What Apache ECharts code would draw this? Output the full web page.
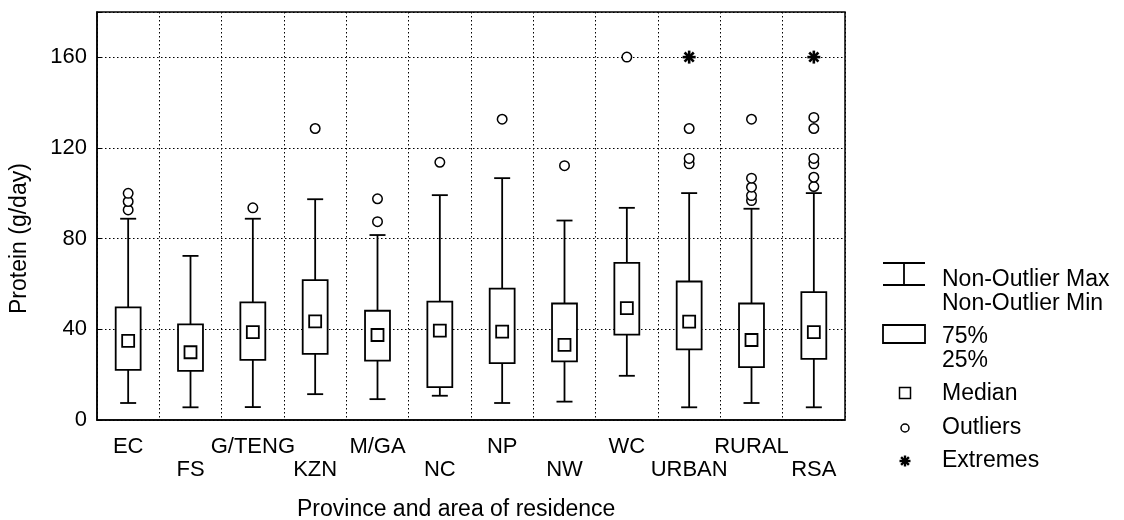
<!DOCTYPE html>
<html>
<head>
    <meta charset="UTF-8">
    <title>Protein boxplot</title>
    <script src="https://cdn.jsdelivr.net/npm/echarts@6/dist/echarts.min.js"></script>
</head>
<body style="margin:0;">
<div id="container" style="height:520px;width:1124px;"></div>
<script>
    // categories and box statistics
    var categories = ['EC', 'FS', 'G/TENG', 'KZN', 'M/GA', 'NC', 'NP', 'NW', 'WC', 'URBAN', 'RURAL', 'RSA'];
    var lows    = [7.5, 5.6, 5.7, 11.4, 9.2, 10.7, 7.5, 8.1, 19.5, 5.6, 7.5, 5.6];
    var q1s     = [22.1, 21.7, 26.5, 29.2, 26.2, 14.5, 25.1, 25.9, 37.7, 31.2, 23.3, 27.0];
    var medians = [34.9, 29.9, 38.8, 43.5, 37.5, 39.4, 39.0, 33.1, 49.4, 43.4, 35.3, 38.8];
    var q3s     = [49.7, 42.2, 51.9, 61.7, 48.2, 52.2, 58.0, 51.4, 69.3, 61.1, 51.4, 56.4];
    var highs   = [88.8, 72.4, 88.8, 97.4, 81.6, 99.2, 106.7, 88.0, 93.6, 100.1, 93.2, 100.1];
    // outliers: [category index, value]
    var outliers = [
        [0, 92.7], [0, 96.4], [0, 100.0],
        [2, 93.6],
        [3, 128.6],
        [4, 87.5], [4, 97.6],
        [5, 113.7],
        [6, 132.7],
        [7, 112.2],
        [8, 160.1],
        [9, 113.0], [9, 115.4], [9, 128.6],
        [10, 96.8], [10, 99.0], [10, 102.7], [10, 106.7], [10, 132.7],
        [11, 103.0], [11, 107.1], [11, 113.0], [11, 115.4], [11, 128.6], [11, 133.5]
    ];
    var extremes = [[9, 160.1], [11, 160.1]];
    var yTicks = [0, 40, 80, 120, 160];

    var FONT = 'Liberation Sans, Arial, sans-serif';
    var dom = document.getElementById('container');
    var myChart = echarts.init(dom);

    var boxData = categories.map(function (c, i) {
        return [i, lows[i], q1s[i], medians[i], q3s[i], highs[i]];
    });

    function renderBox(params, api) {
        var i = api.value(0);
        var pLow = api.coord([i, api.value(1)]);
        var pQ1 = api.coord([i, api.value(2)]);
        var pMed = api.coord([i, api.value(3)]);
        var pQ3 = api.coord([i, api.value(4)]);
        var pHigh = api.coord([i, api.value(5)]);
        var half = api.size([1, 0])[0] * 0.2;
        var cap = 8;
        var x = pMed[0];
        var st = {stroke: '#000', lineWidth: 1.8, fill: null};
        return {
            type: 'group',
            children: [
                {type: 'line', shape: {x1: x, y1: pHigh[1], x2: x, y2: pQ3[1]}, style: st},
                {type: 'line', shape: {x1: x, y1: pQ1[1], x2: x, y2: pLow[1]}, style: st},
                {type: 'line', shape: {x1: x - cap, y1: pHigh[1], x2: x + cap, y2: pHigh[1]}, style: st},
                {type: 'line', shape: {x1: x - cap, y1: pLow[1], x2: x + cap, y2: pLow[1]}, style: st},
                {type: 'rect', shape: {x: x - half, y: pQ3[1], width: half * 2, height: pQ1[1] - pQ3[1]},
                    style: {stroke: '#000', lineWidth: 1.8, fill: '#fff'}},
                {type: 'rect', shape: {x: x - 6, y: pMed[1] - 6, width: 12, height: 12},
                    style: {stroke: '#000', lineWidth: 1.8, fill: '#fff'}}
            ]
        };
    }

    // eight-spoke star used for the extremes
    function asterisk(cx, cy, r, w) {
        var out = [];
        for (var k = 0; k < 4; k++) {
            var a = k * Math.PI / 4;
            out.push({type: 'line',
                shape: {x1: cx - r * Math.cos(a), y1: cy - r * Math.sin(a), x2: cx + r * Math.cos(a), y2: cy + r * Math.sin(a)},
                style: {stroke: '#000', lineWidth: w}});
        }
        return out;
    }

    function renderExtreme(params, api) {
        var p = api.coord([api.value(0), api.value(1)]);
        return {type: 'group', children: asterisk(p[0], p[1], 6.5, 2.6)};
    }

    var legendX = 883, textX = 942;
    var txt = function (s, y) {
        return {type: 'text', left: textX, top: y - 12,
            style: {text: s, font: '23px ' + FONT, fill: '#000'}};
    };
    var lst = {stroke: '#000', lineWidth: 1.8};

    option = {
        animation: false,
        grid: {left: 97, right: 279, top: 12, bottom: 100, show: true, borderColor: '#000', borderWidth: 1.5},
        xAxis: {
            type: 'category',
            data: categories,
            axisLine: {lineStyle: {color: '#000', width: 1.5}},
            axisTick: {show: false},
            splitLine: {show: true, lineStyle: {color: '#000', type: [1.5, 2.5], width: 1}},
            axisLabel: {
                interval: 0, margin: 15, color: '#000', fontSize: 22, fontFamily: FONT, lineHeight: 23,
                formatter: function (v, i) { return i % 2 ? '\n' + v : v; }
            }
        },
        yAxis: {
            type: 'value',
            min: 0, max: 180, interval: 40,
            axisLine: {show: true, lineStyle: {color: '#000', width: 1.5}},
            axisTick: {show: true, inside: true, length: 4, lineStyle: {color: '#000'}},
            splitLine: {show: true, lineStyle: {color: '#000', type: [1.5, 2.5], width: 1}},
            axisLabel: {
                color: '#000', fontSize: 22, fontFamily: FONT, margin: 10,
                formatter: function (v) { return yTicks.indexOf(v) >= 0 ? String(v) : ''; }
            }
        },
        graphic: [
            {type: 'text', left: 297, top: 498,
                style: {text: 'Province and area of residence', font: '23px ' + FONT, fill: '#000'}},
            {type: 'text', x: 8, y: 314, rotation: Math.PI / 2,
                style: {text: 'Protein (g/day)', font: '23px ' + FONT, fill: '#000'}},
            // legend
            {type: 'line', shape: {x1: 904, y1: 263, x2: 904, y2: 285}, style: lst},
            {type: 'line', shape: {x1: legendX, y1: 263, x2: 925, y2: 263}, style: lst},
            {type: 'line', shape: {x1: legendX, y1: 285, x2: 925, y2: 285}, style: lst},
            {type: 'rect', shape: {x: legendX, y: 325, width: 42, height: 18}, style: {stroke: '#000', lineWidth: 1.8, fill: '#fff'}},
            {type: 'rect', shape: {x: 899.5, y: 387.5, width: 11, height: 11}, style: {stroke: '#000', lineWidth: 1.5, fill: '#fff'}},
            {type: 'circle', shape: {cx: 905, cy: 428, r: 4}, style: {stroke: '#000', lineWidth: 1.5, fill: '#fff'}},
            {type: 'group', children: asterisk(905, 461, 5.5, 2.4)},
            txt('Non-Outlier Max', 280),
            txt('Non-Outlier Min', 304),
            txt('75%', 337),
            txt('25%', 361),
            txt('Median', 394),
            txt('Outliers', 428),
            txt('Extremes', 461)
        ],
        series: [
            {
                type: 'custom',
                renderItem: renderBox,
                encode: {x: 0, y: [1, 2, 3, 4, 5]},
                data: boxData,
                z: 3
            },
            {
                type: 'scatter',
                data: outliers,
                symbol: 'circle',
                symbolSize: 9.5,
                itemStyle: {color: '#fff', borderColor: '#000', borderWidth: 1.5, opacity: 1},
                z: 4
            },
            {
                type: 'custom',
                renderItem: renderExtreme,
                encode: {x: 0, y: 1},
                data: extremes,
                z: 5
            }
        ]
    };
    myChart.setOption(option);
</script>
</body>
</html>
